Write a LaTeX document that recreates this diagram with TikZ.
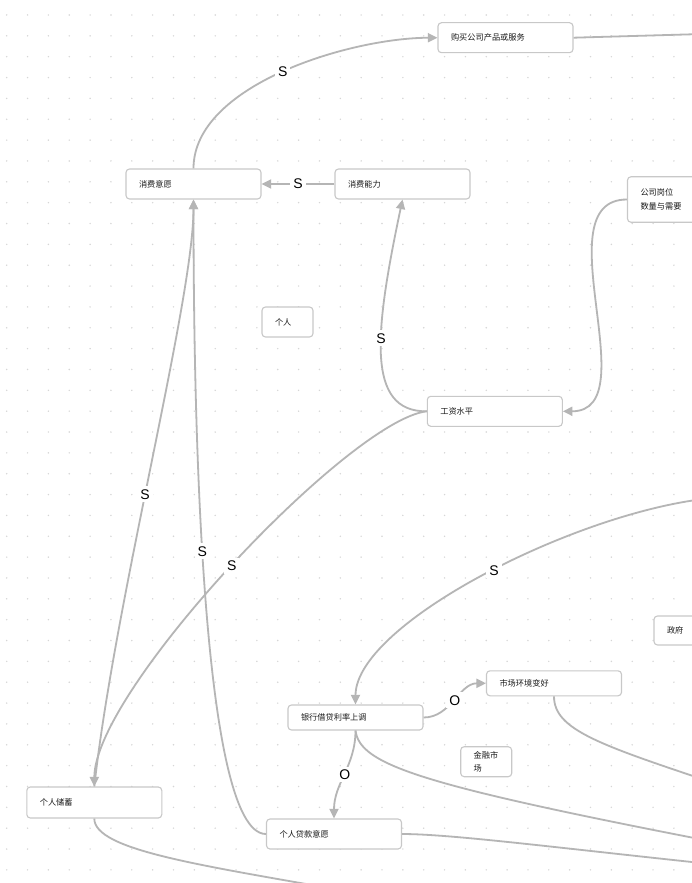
\documentclass[tikz,border=0pt]{standalone}
\usepackage{fontspec}
\setmainfont{Liberation Sans}
\newfontfamily\cjk{Noto Sans CJK SC}
\usetikzlibrary{arrows.meta}
\definecolor{linkc}{HTML}{B5B5B5}
\definecolor{boxc}{HTML}{C8C8C8}
\definecolor{dotc}{HTML}{D6D6D6}
\definecolor{txtc}{HTML}{1A1A1A}
\begin{document}
\begin{tikzpicture}[x=1pt,y=-1pt,
	card/.style={draw=boxc,line width=1.1pt,rounded corners=3.5pt,fill=white,inner xsep=13pt,inner ysep=0pt,
		text width=109pt,minimum height=30pt,align=left,text=txtc,font=\cjk\fontsize{8.2}{13.5}\selectfont},
	link/.style={draw=linkc,line width=1.8pt},
	tip/.style={-{Triangle[length=9.5pt,width=9pt]}},
	lbl/.style={fill=white,inner sep=3pt,text=black,font=\fontsize{14}{14}\selectfont}]
	\useasboundingbox (0,0) rectangle (692,883);
	\clip (0,0) rectangle (692,883);
	\fill[white] (0,0) rectangle (692,883);
	\foreach \i in {0,...,33}
		\foreach \j in {0,...,42}
			\fill[dotc] (6.7+20.85*\i,15+20.85*\j) circle (0.8);
	\node[card] (buy) at (505.5,37.7) {购买公司产品或服务};
	\node[card] (will) at (193.5,184) {消费意愿};
	\node[card] (able) at (402.5,184) {消费能力};
	\node[card,minimum height=45.5pt] (jobs) at (695,199.5) {公司岗位\\数量与需要};
	\node[card,text width=25pt] (self) at (287.5,322) {个人};
	\node[card] (wage) at (494.8,411.3) {工资水平};
	\node[card,minimum height=29pt] (gov) at (721.5,630.5) {政府};
	\node[card,minimum height=25pt] (mkt) at (554,683.3) {市场环境变好};
	\node[card,minimum height=25pt] (bank) at (355.5,717.5) {银行借贷利率上调};
	\node[card,text width=25pt] (fin) at (486.2,761.7) {金融市\\场};
	\node[card,minimum height=31pt] (save) at (94.3,802.5) {个人储蓄};
	\node[card] (loan) at (334,834) {个人贷款意愿};
	\coordinate (buyR) at (720,33.5);
	\coordinate (govIn) at (730,497);
	\coordinate (bankR) at (720,843);
	\coordinate (mktR) at (720,785);
	\coordinate (loanR) at (720,865);
	\coordinate (saveB) at (340,890);
	\draw[link,tip] (will.north) .. controls (193.5,85) and (350,38) .. (buy.west) node[lbl,pos=0.5] {S};
	\draw[link] (buy.east) -- (buyR);
	\draw[link,tip] (able.west) -- (will.east) node[lbl,pos=0.5] {S};
	\draw[link,tip] (wage.west) .. controls (365,412) and (375,330) .. (able.south) node[lbl,pos=0.57] {S};
	\draw[link,tip] (jobs.west) .. controls (541.5,199.5) and (648.5,411.3) .. (wage.east);
	\draw[link,tip] (wage.west) .. controls (350,420) and (94.3,690) .. (save.north) node[lbl,pos=0.5] {S};
	\draw[link,tip] (save.north) .. controls (115,600) and (193.5,300) .. (will.south) node[lbl,pos=0.45] {S};
	\draw[link,tip] (loan.west) .. controls (200,834) and (193.5,400) .. (will.south) node[lbl,pos=0.55] {S};
	\draw[link,tip] (govIn) .. controls (600,500) and (355.5,620) .. (bank.north) node[lbl,pos=0.5] {S};
	\draw[link,tip] (bank.east) .. controls (451,717.5) and (459,683.3) .. (mkt.west) node[lbl,pos=0.5] {O};
	\draw[link,tip] (bank.south) .. controls (355.5,766) and (334,783) .. (loan.north) node[lbl,pos=0.5] {O};
	\draw[link] (bank.south) .. controls (360,765) and (420,785) .. (bankR);
	\draw[link] (mkt.south) .. controls (554,730) and (600,745) .. (mktR);
	\draw[link] (loan.east) .. controls (450,834) and (550,847) .. (loanR);
	\draw[link] (save.south) .. controls (94.3,850) and (200,865) .. (saveB);
\end{tikzpicture}
\end{document}
